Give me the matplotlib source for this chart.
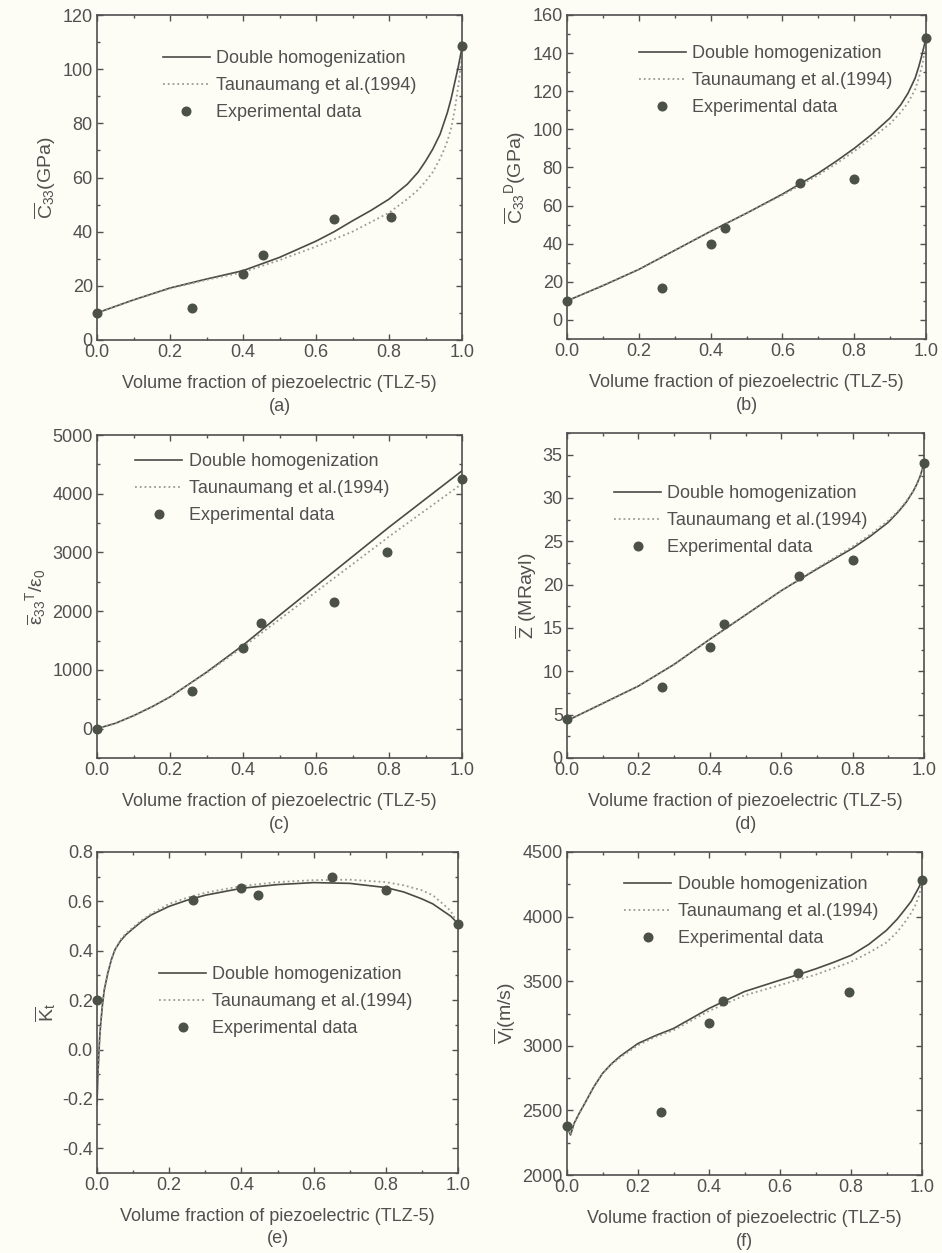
import matplotlib
matplotlib.use("Agg")
import matplotlib.pyplot as plt
from matplotlib.ticker import MultipleLocator, AutoMinorLocator

plt.rcParams['font.family'] = ['Liberation Sans', 'DejaVu Sans']
plt.rcParams['mathtext.fontset'] = 'custom'
plt.rcParams['mathtext.rm'] = 'Liberation Sans'
plt.rcParams['mathtext.it'] = 'Liberation Sans'
plt.rcParams['mathtext.bf'] = 'Liberation Sans:bold'

# ---------------- data ----------------
exp_x_a = [0.0, 0.26, 0.40, 0.455, 0.65, 0.805, 1.0]
exp_y_a = [10, 12, 24.5, 31.5, 44.5, 45.5, 108.5]
dh_x_a = [0.0, 0.1, 0.2, 0.3, 0.4, 0.5, 0.6, 0.65, 0.7, 0.75, 0.8, 0.85, 0.88, 0.9, 0.92, 0.94, 0.95, 0.96, 0.97, 0.98, 0.99, 1.0]
dh_y_a = [10, 14.8, 19.2, 22.5, 25.6, 30.5, 36.5, 40.0, 44.0, 47.8, 52.0, 57.5, 62.0, 66.0, 70.5, 76.0, 80.0, 84.0, 89.0, 95.0, 101.0, 108.0]
tm_x_a = [0.0, 0.1, 0.2, 0.3, 0.4, 0.5, 0.6, 0.7, 0.75, 0.8, 0.85, 0.88, 0.9, 0.92, 0.94, 0.95, 0.96, 0.97, 0.98, 0.99, 1.0]
tm_y_a = [10, 14.8, 19.0, 22.2, 25.0, 29.5, 34.5, 40.0, 43.5, 47.0, 52.0, 55.5, 58.5, 62.0, 67.0, 70.0, 73.5, 78.0, 85.0, 94.0, 105.0]

exp_x_b = [0.0, 0.265, 0.40, 0.44, 0.65, 0.80, 1.0]
exp_y_b = [10, 17, 40, 48.5, 72, 74, 148]
dh_x_b = [0.0, 0.1, 0.2, 0.3, 0.4, 0.5, 0.6, 0.65, 0.7, 0.75, 0.8, 0.85, 0.9, 0.93, 0.95, 0.97, 0.98, 0.99, 1.0]
dh_y_b = [10, 18, 26.5, 36.5, 46.5, 56, 66, 71.5, 77, 83.3, 90, 97.5, 106, 113, 119, 127, 133, 140, 148]
tm_x_b = [0.0, 0.1, 0.2, 0.3, 0.4, 0.5, 0.6, 0.7, 0.75, 0.8, 0.85, 0.9, 0.93, 0.95, 0.97, 0.98, 0.99, 1.0]
tm_y_b = [10, 18, 26.5, 36.5, 46.5, 56, 65.5, 76, 82, 88.5, 95.5, 103, 109, 114, 121, 127, 134, 146]

exp_x_c = [0.0, 0.26, 0.40, 0.45, 0.65, 0.795, 1.0]
exp_y_c = [0, 640, 1370, 1800, 2150, 3000, 4250]
dh_x_c = [0.0, 0.05, 0.1, 0.15, 0.2, 0.3, 0.4, 0.5, 0.6, 0.7, 0.8, 0.9, 1.0]
dh_y_c = [0, 90, 220, 370, 540, 960, 1420, 1930, 2430, 2930, 3430, 3910, 4390]
tm_x_c = [0.0, 0.05, 0.1, 0.15, 0.2, 0.3, 0.4, 0.5, 0.6, 0.7, 0.8, 0.9, 1.0]
tm_y_c = [0, 90, 220, 370, 540, 950, 1390, 1860, 2330, 2800, 3270, 3720, 4170]

exp_x_d = [0.0, 0.265, 0.40, 0.44, 0.65, 0.80, 1.0]
exp_y_d = [4.5, 8.2, 12.8, 15.5, 21.0, 22.9, 34.0]
dh_x_d = [0.0, 0.1, 0.2, 0.3, 0.4, 0.5, 0.6, 0.7, 0.8, 0.85, 0.9, 0.93, 0.95, 0.97, 0.98, 0.99, 1.0]
dh_y_d = [4.3, 6.3, 8.3, 10.8, 13.7, 16.5, 19.3, 21.8, 24.2, 25.6, 27.2, 28.5, 29.5, 30.8, 31.6, 32.6, 34.0]
tm_x_d = [0.0, 0.1, 0.2, 0.3, 0.4, 0.5, 0.6, 0.7, 0.8, 0.85, 0.9, 0.93, 0.95, 0.97, 0.98, 0.99, 1.0]
tm_y_d = [4.3, 6.3, 8.3, 10.8, 13.7, 16.5, 19.3, 21.9, 24.4, 25.8, 27.4, 28.6, 29.6, 30.8, 31.6, 32.5, 33.8]

exp_x_e = [0.0, 0.265, 0.40, 0.445, 0.65, 0.80, 1.0]
exp_y_e = [0.20, 0.605, 0.655, 0.625, 0.70, 0.645, 0.51]
dh_x_e = [0.0, 0.0025, 0.005, 0.0075, 0.01, 0.015, 0.02, 0.03, 0.04, 0.05, 0.065, 0.08, 0.1, 0.125, 0.15, 0.2, 0.25, 0.3, 0.4, 0.5, 0.6, 0.7, 0.8, 0.85, 0.9, 0.93, 0.95, 0.97, 0.98, 1.0]
dh_y_e = [-0.22, -0.10, -0.02, 0.05, 0.10, 0.18, 0.24, 0.31, 0.365, 0.405, 0.44, 0.465, 0.49, 0.52, 0.545, 0.58, 0.605, 0.625, 0.653, 0.668, 0.676, 0.673, 0.656, 0.638, 0.61, 0.59, 0.57, 0.55, 0.54, 0.51]
tm_x_e = [0.0, 0.0025, 0.005, 0.0075, 0.01, 0.015, 0.02, 0.03, 0.04, 0.05, 0.065, 0.08, 0.1, 0.125, 0.15, 0.2, 0.25, 0.3, 0.4, 0.5, 0.6, 0.7, 0.8, 0.85, 0.9, 0.93, 0.95, 0.97, 0.98, 1.0]
tm_y_e = [-0.22, -0.10, -0.02, 0.05, 0.10, 0.18, 0.24, 0.31, 0.365, 0.405, 0.445, 0.47, 0.495, 0.525, 0.55, 0.59, 0.615, 0.635, 0.662, 0.678, 0.686, 0.688, 0.678, 0.665, 0.645, 0.625, 0.60, 0.575, 0.56, 0.51]

exp_x_f = [0.0, 0.265, 0.40, 0.44, 0.65, 0.795, 1.0]
exp_y_f = [2380, 2485, 3175, 3345, 3560, 3420, 4280]
dh_x_f = [0.0, 0.01, 0.02, 0.035, 0.05, 0.075, 0.1, 0.125, 0.15, 0.2, 0.25, 0.3, 0.4, 0.5, 0.6, 0.65, 0.7, 0.75, 0.8, 0.85, 0.9, 0.93, 0.95, 0.97, 0.98, 0.99, 1.0]
dh_y_f = [2374, 2310, 2400, 2480, 2554, 2680, 2786, 2860, 2920, 3018, 3080, 3134, 3289, 3420, 3508, 3550, 3595, 3645, 3700, 3785, 3894, 3980, 4049, 4120, 4170, 4220, 4281]
tm_x_f = [0.0, 0.01, 0.02, 0.035, 0.05, 0.075, 0.1, 0.125, 0.15, 0.2, 0.25, 0.3, 0.4, 0.5, 0.6, 0.7, 0.75, 0.8, 0.85, 0.9, 0.93, 0.95, 0.97, 0.98, 0.99, 1.0]
tm_y_f = [2374, 2310, 2400, 2480, 2554, 2680, 2786, 2855, 2910, 3005, 3070, 3120, 3270, 3390, 3470, 3550, 3600, 3650, 3720, 3800, 3880, 3950, 4030, 4080, 4150, 4250]

ylabels = [r'$\overline{C}_{33}$(GPa)', r'$\overline{C}_{33}{}^{D}$(GPa)',
           r'$\overline{\varepsilon}_{33}{}^{T}/\varepsilon_0$', r'$\overline{Z}$ (MRayl)',
           r'$\overline{K}_t$', r'$\overline{V}_l$(m/s)']
panel_tags = ['(a)', '(b)', '(c)', '(d)', '(e)', '(f)']
ylims = [(0, 120), (-10, 160), (-500, 5000), (0, 37.5), (-0.5, 0.8), (2000, 4500)]
ymajor = [20, 20, 1000, 5, 0.2, 500]
legend_names = ['Double homogenization', 'Taunaumang et al.(1994)', 'Experimental data']

panels = [
    (dh_x_a, dh_y_a, tm_x_a, tm_y_a, exp_x_a, exp_y_a),
    (dh_x_b, dh_y_b, tm_x_b, tm_y_b, exp_x_b, exp_y_b),
    (dh_x_c, dh_y_c, tm_x_c, tm_y_c, exp_x_c, exp_y_c),
    (dh_x_d, dh_y_d, tm_x_d, tm_y_d, exp_x_d, exp_y_d),
    (dh_x_e, dh_y_e, tm_x_e, tm_y_e, exp_x_e, exp_y_e),
    (dh_x_f, dh_y_f, tm_x_f, tm_y_f, exp_x_f, exp_y_f),
]

# layout
W, H = 942, 1253
bg = '#fdfdf5'
ink = '#505050'
line_c = '#4a4a46'
dot_c = '#4c5148'
dotted_c = '#9a9a96'

axes_px = [  # left, top, right, bottom in pixels
    (97, 15, 462, 340), (567, 15, 926, 339),
    (97, 435, 462, 758), (567, 433, 924, 758),
    (97, 852, 458, 1173), (567, 852, 922, 1175),
]
legend_anchor = [  # upper-left of legend in axes fraction
    (0.16, 0.914), (0.18, 0.929), (0.085, 0.966), (0.112, 0.862), (0.152, 0.667), (0.141, 0.947)
]

fig = plt.figure(figsize=(W / 100, H / 100), dpi=100, facecolor=bg)

for i, (dx, dy, tx, ty, ex, ey) in enumerate(panels):
    l, t, r, b = axes_px[i]
    ax = fig.add_axes([l / W, 1 - b / H, (r - l) / W, (b - t) / H])
    ax.set_facecolor(bg)
    ax.plot(dx, dy, '-', color=line_c, lw=1.2, label=legend_names[0])
    ax.plot(tx, ty, ':', color=dotted_c, lw=1.3, label=legend_names[1])
    ax.plot(ex, ey, 'o', color=dot_c, ms=6.2, ls='none', label=legend_names[2], clip_on=False, zorder=5)
    ax.set_xlim(0, 1.0)
    ax.set_ylim(*ylims[i])
    ax.xaxis.set_major_locator(MultipleLocator(0.2))
    ax.xaxis.set_minor_locator(AutoMinorLocator(2))
    ax.yaxis.set_major_locator(MultipleLocator(ymajor[i]))
    ax.yaxis.set_minor_locator(AutoMinorLocator(2))
    ax.xaxis.set_major_formatter(plt.FuncFormatter(lambda v, p: f'{v:.1f}'))
    if i == 4:
        ax.yaxis.set_major_formatter(plt.FuncFormatter(lambda v, p: f'{v:.1f}'))
    ax.tick_params(which='both', direction='in', top=True, right=True, colors=ink,
                   labelsize=13, labelcolor=ink, width=1)
    ax.tick_params(which='major', length=4, pad=3)
    ax.tick_params(which='minor', length=2.5)
    for s in ax.spines.values():
        s.set_color(ink)
        s.set_linewidth(1.2)
    ax.set_ylabel(ylabels[i], fontsize=14, color=ink, labelpad=3)
    ax.set_xlabel('Volume fraction of piezoelectric (TLZ-5)', fontsize=13, color=ink, labelpad=10)
    ax.text(0.5, -0.205, panel_tags[i], transform=ax.transAxes, ha='center', va='center',
            fontsize=13, color=ink)
    leg = ax.legend(loc='upper left', bbox_to_anchor=legend_anchor[i], frameon=False,
                    fontsize=13, handlelength=2.6, handletextpad=0.35, labelspacing=0.55,
                    borderaxespad=0, borderpad=0.4)
    for txt in leg.get_texts():
        txt.set_color(ink)

fig.savefig('out.png', dpi=100, facecolor=bg)
